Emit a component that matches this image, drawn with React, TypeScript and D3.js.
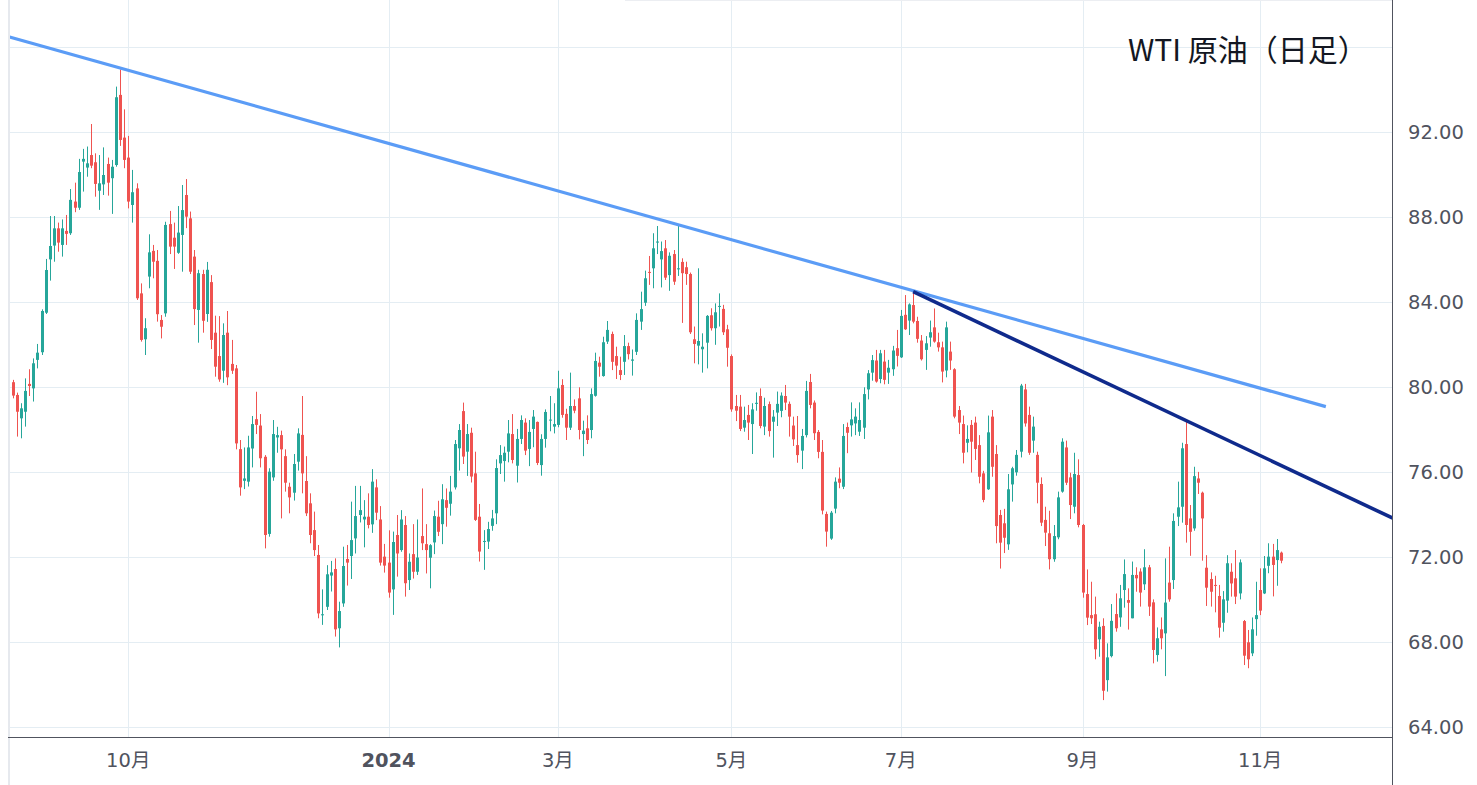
import React from 'react';
import * as d3 from 'd3';

// open, high, low, close
type Bar = [number, number, number, number];

const aug23: Bar[] = [
  [80.24, 80.35, 79.48, 79.61], [79.64, 79.75, 77.68, 78.85], [78.54, 79.25, 77.6, 79.01], [78.85, 80.42, 78.15, 79.83],
  [80.16, 80.85, 79.59, 80.06], [79.95, 81.36, 79.33, 81.13], [81.29, 82.04, 80.89, 81.63], [81.65, 83.67, 81.52, 83.59],
];
const sep23: Bar[] = [
  [83.51, 86.04, 83.45, 85.52], [86.02, 88.06, 85.02, 86.65], [86.67, 88.06, 85.91, 87.48], [87.48, 87.75, 86.38, 86.81],
  [86.7, 87.9, 86.15, 87.48], [87.36, 88.11, 86.7, 87.22], [87.25, 89.33, 87.17, 88.82], [88.74, 89.63, 88.24, 88.45],
  [88.45, 90.75, 88.35, 90.13], [90.62, 91.22, 89.21, 90.75], [90.34, 91.33, 89.91, 90.54], [90.93, 92.39, 90.31, 90.43],
  [90.59, 91.01, 88.97, 89.57], [89.25, 90.93, 88.35, 89.6], [89.55, 91.29, 89.05, 89.99], [90.51, 90.81, 89.02, 89.63],
  [89.84, 90.7, 88.16, 90.38], [90.46, 94.15, 90.38, 93.65], [93.76, 94.96, 91.36, 91.64], [91.75, 93.08, 90.31, 90.7],
];
const oct23: Bar[] = [
  [90.81, 91.83, 88.42, 88.74], [88.58, 90.23, 87.75, 89.18], [89.36, 89.6, 84.11, 84.19], [84.42, 84.89, 82.15, 82.23],
  [82.26, 83.25, 81.52, 82.78], [85.21, 87.2, 84.66, 86.35], [86.42, 86.7, 85.13, 85.91], [85.95, 86.46, 83.09, 83.44],
  [83.17, 83.4, 82.3, 82.85], [83.48, 87.79, 83.32, 87.64], [87.68, 88.3, 86.27, 86.62], [87.04, 87.75, 85.57, 86.62],
  [86.33, 88.53, 86.28, 87.28], [87.17, 89.52, 85.44, 88.34], [89.05, 89.8, 87.49, 88.03], [87.95, 88.27, 85.33, 85.44],
  [86.15, 86.46, 82.93, 83.68], [83.64, 85.53, 82.1, 85.37], [85.33, 85.53, 82.57, 83.13], [83.45, 85.9, 83.08, 85.53],
  [84.95, 85.28, 81.8, 82.23], [82.57, 83.37, 80.5, 80.97],
];
const nov23: Bar[] = [
  [81.47, 83.35, 80.26, 80.37], [80.78, 83.01, 80.21, 82.46], [82.57, 83.59, 80.1, 80.47], [81.1, 82.23, 80.63, 80.78],
  [80.89, 81.05, 77.08, 77.36], [77.09, 77.52, 74.9, 75.29], [75.6, 77.17, 75.21, 75.71], [75.56, 77.72, 75.33, 77.17],
  [77.12, 78.65, 76.23, 78.27], [78.5, 79.79, 77.8, 78.23], [78.2, 78.74, 76.23, 76.66], [76.73, 76.81, 72.42, 73.05],
  [73.1, 76.19, 72.97, 76.03], [75.76, 78.46, 75.6, 77.8], [77.64, 78.14, 76.92, 77.75], [77.75, 77.96, 73.83, 77.08],
  [76.76, 77.08, 75.09, 75.51], [75.32, 75.51, 74.07, 74.82], [75.04, 76.86, 74.67, 76.39], [76.5, 78.07, 76.08, 77.83],
  [77.76, 79.59, 75.01, 75.95],
];
const dec23: Bar[] = [
  [75.59, 76.76, 73.94, 74.07], [74.54, 75.01, 72.66, 73.05], [73.28, 74.15, 72.06, 72.34], [72.11, 72.58, 69.13, 69.36],
  [69.27, 70.49, 68.82, 69.32], [69.67, 71.63, 69.52, 71.2], [71.14, 71.83, 70.39, 71.29], [71.45, 71.95, 68.27, 68.61],
  [68.66, 69.91, 67.76, 69.47], [69.83, 72.5, 69.67, 71.59], [71.92, 72.58, 70.67, 71.75], [72.06, 74.62, 70.98, 72.81],
  [72.89, 75.36, 72.18, 73.94], [73.99, 75.36, 73.64, 74.22], [73.78, 74.69, 72.47, 73.91], [73.91, 75.01, 73.36, 73.52],
  [73.55, 76.15, 73.15, 75.56], [75.29, 75.67, 73.75, 74.1], [73.78, 74.41, 71.61, 71.75], [72.03, 72.63, 71.28, 71.61],
];
const jan24: Bar[] = [
  [71.75, 73.27, 70.1, 70.34], [70.49, 73.21, 69.29, 72.72], [73.05, 73.99, 71.09, 72.18], [72.34, 74.22, 72.26, 73.78],
  [73.52, 73.94, 70.15, 70.78], [70.93, 72.18, 70.46, 71.79], [72.15, 73.56, 71.0, 71.32], [71.32, 73.78, 71.17, 71.99],
  [73.0, 75.24, 72.34, 72.66], [72.62, 73.56, 71.24, 72.34], [71.98, 72.62, 70.54, 72.57], [72.7, 74.2, 72.15, 73.94],
  [73.91, 74.66, 73.0, 73.2], [73.56, 75.44, 72.62, 74.73], [74.69, 75.24, 73.44, 74.33], [74.52, 75.83, 73.96, 75.09],
  [75.29, 77.52, 75.19, 77.33], [77.13, 78.27, 76.08, 77.99], [78.88, 79.28, 76.39, 76.74], [76.97, 78.27, 75.83, 77.8],
  [77.86, 78.1, 75.52, 75.8],
];
const feb24: Bar[] = [
  [75.95, 76.97, 73.71, 73.76], [73.91, 74.51, 71.8, 72.27], [72.74, 73.28, 71.41, 72.77], [72.74, 73.67, 72.39, 73.33],
  [73.48, 74.23, 73.25, 73.83], [74.07, 76.61, 73.56, 76.2], [76.42, 77.28, 75.92, 76.81], [76.53, 77.21, 75.56, 76.92],
  [76.97, 78.46, 76.47, 77.83], [77.8, 78.74, 76.42, 76.58], [76.31, 78.04, 75.52, 77.57], [77.57, 78.68, 77.33, 78.46],
  [78.34, 78.54, 76.81, 77.02], [77.1, 78.46, 76.29, 77.9], [78.04, 78.93, 77.18, 78.62], [78.37, 78.39, 76.34, 76.44],
  [76.34, 77.79, 75.84, 77.57], [77.57, 78.96, 77.16, 78.84], [78.44, 79.59, 77.93, 78.48], [78.15, 79.25, 77.83, 78.27],
];
const mar24: Bar[] = [
  [78.23, 80.78, 78.12, 79.95], [80.11, 80.38, 78.57, 78.7], [78.75, 78.99, 77.52, 78.1], [78.1, 80.69, 77.99, 79.12],
  [79.12, 79.43, 78.78, 78.9], [79.48, 80.0, 77.55, 77.99], [77.8, 78.43, 76.76, 77.96], [78.07, 78.68, 77.33, 77.52],
  [77.99, 79.95, 77.6, 79.68], [79.6, 81.63, 79.56, 81.24], [81.16, 81.44, 80.5, 80.97], [80.53, 82.38, 80.5, 82.12],
  [82.15, 83.12, 82.04, 82.7], [82.51, 82.62, 80.81, 81.2], [81.47, 81.91, 80.39, 81.02], [80.81, 81.44, 80.34, 80.58],
  [81.2, 82.46, 80.58, 81.94], [81.94, 82.1, 81.31, 81.56], [81.25, 81.78, 80.55, 81.31], [81.67, 83.48, 81.52, 83.17],
];
const apr24: Bar[] = [
  [83.09, 84.5, 82.7, 83.68], [83.98, 85.49, 83.83, 85.13], [85.43, 86.18, 84.82, 85.4], [85.6, 87.25, 84.66, 86.54],
  [86.81, 87.59, 86.27, 86.86], [86.02, 86.86, 84.7, 86.41], [86.54, 86.93, 85.05, 85.16], [85.28, 86.35, 84.54, 86.19],
  [86.27, 86.46, 84.82, 84.97], [85.55, 87.67, 85.24, 85.6], [85.9, 86.07, 83.03, 85.37], [85.65, 85.91, 84.82, 85.33],
  [85.33, 85.4, 82.51, 82.59], [82.26, 82.86, 81.13, 82.04], [81.96, 85.6, 81.08, 82.18], [81.79, 82.54, 80.69, 81.91],
  [82.1, 83.4, 80.89, 83.36], [83.39, 83.72, 82.67, 82.78], [82.78, 83.95, 82.0, 83.53], [83.8, 84.42, 82.86, 83.83],
  [83.69, 83.88, 82.46, 82.59], [82.73, 82.94, 80.97, 81.86],
];
const may24: Bar[] = [
  [81.47, 81.55, 78.85, 78.96], [79.12, 79.64, 78.41, 78.9], [79.09, 79.64, 77.94, 78.04], [78.1, 79.09, 77.91, 78.46],
  [78.7, 79.17, 77.52, 78.34], [78.27, 79.25, 76.86, 78.96], [79.22, 79.76, 78.9, 79.27], [79.59, 79.95, 78.07, 78.18],
  [78.15, 79.51, 77.75, 79.12], [79.21, 79.33, 77.68, 77.94], [78.38, 78.93, 76.69, 78.62], [78.81, 79.8, 78.18, 79.22],
  [78.89, 79.76, 78.59, 79.61], [79.59, 80.11, 78.93, 79.28], [79.22, 79.33, 77.68, 78.62], [78.2, 78.62, 77.24, 77.55],
  [77.28, 78.65, 76.45, 76.81], [77.02, 78.04, 76.15, 77.71], [77.75, 80.3, 77.64, 79.83], [80.25, 80.63, 79.01, 79.17],
  [79.28, 79.38, 77.52, 77.84], [77.9, 77.99, 76.66, 76.96],
];
const jun24: Bar[] = [
  [76.96, 77.52, 74.02, 74.2], [74.04, 74.15, 72.5, 73.21], [72.88, 74.18, 72.82, 74.1], [74.29, 75.76, 74.07, 75.56],
  [75.7, 76.23, 75.25, 75.51], [75.32, 78.27, 75.21, 77.71], [78.13, 78.34, 76.9, 77.86], [78.21, 79.29, 77.68, 78.49],
  [78.3, 79.01, 77.75, 78.62], [77.91, 79.29, 77.71, 78.46], [78.1, 80.0, 77.57, 79.68], [79.9, 80.81, 79.43, 80.66],
  [80.69, 81.52, 80.31, 81.28], [81.26, 81.76, 80.22, 80.27], [80.39, 81.76, 80.19, 81.6], [81.21, 81.76, 80.14, 80.35],
  [80.69, 81.29, 80.16, 80.92], [80.85, 81.95, 80.54, 81.73], [81.84, 82.7, 80.98, 81.48],
];
const jul24: Bar[] = [
  [81.41, 83.64, 81.38, 83.36], [83.41, 84.34, 82.7, 82.73], [83.14, 83.95, 82.46, 83.9], [83.87, 84.5, 83.01, 83.09],
  [83.12, 83.32, 82.1, 82.28], [82.2, 82.46, 81.26, 81.32], [81.76, 82.41, 80.82, 82.07], [82.34, 83.14, 81.91, 82.59],
  [82.82, 83.71, 82.1, 82.15], [82.12, 82.57, 81.68, 81.88], [81.88, 82.15, 80.23, 80.74], [80.79, 83.09, 80.47, 82.82],
  [81.68, 82.15, 80.82, 81.26], [80.85, 80.9, 78.54, 78.62], [78.93, 79.12, 77.8, 78.34], [78.27, 78.67, 76.42, 76.92],
  [77.39, 78.21, 76.94, 77.57], [78.23, 78.46, 75.99, 77.44], [78.34, 78.62, 76.58, 77.1], [77.28, 77.75, 75.48, 75.79],
  [75.95, 76.07, 74.59, 74.7], [75.2, 78.67, 75.17, 77.88],
];
const aug24: Bar[] = [
  [78.62, 78.93, 75.79, 76.26], [76.86, 77.28, 72.66, 73.47], [73.99, 74.23, 71.47, 72.69], [73.6, 74.28, 72.2, 72.92],
  [72.61, 75.92, 72.35, 75.2], [75.43, 76.26, 74.62, 76.19], [76.0, 77.05, 75.84, 76.82], [76.97, 80.16, 76.7, 80.08],
  [79.9, 80.16, 78.15, 78.3], [78.7, 79.09, 76.82, 76.92], [77.49, 78.62, 76.92, 78.15], [76.82, 76.97, 74.54, 75.51],
  [75.45, 75.76, 73.47, 73.63], [73.76, 74.38, 72.53, 73.16], [73.13, 74.19, 71.43, 71.91], [71.91, 73.52, 71.79, 73.0],
  [72.94, 75.09, 72.85, 74.82], [75.09, 77.6, 75.04, 77.44], [77.17, 77.49, 75.4, 75.51], [75.76, 75.98, 73.8, 74.46],
  [74.38, 76.92, 74.07, 75.92], [75.87, 76.61, 73.41, 73.52],
];
const sep24: Bar[] = [
  [73.52, 73.57, 70.1, 70.34], [70.27, 71.43, 68.81, 69.16], [69.28, 70.85, 68.86, 69.13], [69.32, 70.15, 67.2, 67.67],
  [68.14, 68.97, 67.32, 68.73], [68.77, 69.13, 65.28, 65.72], [66.22, 67.95, 65.68, 67.29], [67.35, 69.8, 67.29, 69.01],
  [69.33, 70.3, 68.5, 68.66], [69.17, 70.7, 68.73, 70.07], [70.46, 71.9, 69.63, 71.21], [69.99, 70.54, 68.6, 69.86],
  [69.13, 71.8, 69.13, 71.17], [71.17, 71.53, 70.38, 71.01], [71.33, 71.48, 69.68, 70.34], [70.73, 72.38, 70.46, 71.53],
  [71.53, 71.64, 69.24, 69.68], [69.88, 70.02, 67.01, 67.64], [67.4, 68.7, 67.09, 68.19], [68.61, 69.17, 67.67, 68.19],
];
const oct24: Bar[] = [
  [68.42, 71.95, 66.41, 69.87], [70.81, 72.5, 69.91, 70.02], [70.93, 74.07, 70.51, 73.71], [73.91, 75.56, 73.47, 74.35],
  [74.38, 77.39, 73.63, 77.13], [77.33, 78.46, 72.69, 73.52], [73.83, 74.46, 72.07, 73.2], [73.36, 76.26, 73.25, 75.82],
  [75.71, 76.02, 74.98, 75.51], [75.04, 75.09, 71.84, 73.83], [71.51, 72.1, 69.71, 70.57], [70.98, 71.29, 69.68, 70.38],
  [70.7, 71.13, 69.41, 70.66], [70.18, 70.7, 68.22, 68.69], [68.92, 70.41, 68.5, 70.02], [69.96, 72.1, 69.39, 71.72],
  [71.32, 71.72, 70.15, 70.77], [71.01, 72.34, 69.8, 70.15], [70.3, 71.9, 70.02, 71.76], [69.0, 69.05, 66.93, 67.37],
  [68.0, 68.58, 66.78, 67.2], [67.48, 69.17, 67.35, 68.61], [69.09, 70.85, 68.31, 69.28],
];
const nov24: Bar[] = [
  [70.46, 71.48, 69.28, 69.49], [70.3, 72.06, 70.27, 71.48], [71.6, 72.66, 71.25, 72.03], [72.03, 72.63, 70.16, 71.64],
  [71.87, 72.86, 70.66, 72.34], [72.22, 72.27, 71.72, 71.84],
];

// month boundaries (bar index) and their labels
const tickIndex = [28, 91, 132, 174, 215, 259, 302];
const tickLabels = ['10月', '2024', '3月', '5月', '7月', '9月', '11月'];
const priceLabels = [64, 68, 72, 76, 80, 84, 88, 92];
const gridPrices = [64, 68, 72, 76, 80, 84, 88, 92, 96];

// trend lines as [bar index, price]
const longTrend: [number, number][] = [[-1, 96.5], [317.9, 79.09]];
const shortTrend: [number, number][] = [[218, 84.5], [340, 73.3]];

const title = 'WTI 原油（日足）';

const bars: Bar[] = [
  ...aug23, ...sep23, ...oct23, ...nov23, ...dec23, ...jan24, ...feb24, ...mar24,
  ...apr24, ...may24, ...jun24, ...jul24, ...aug24, ...sep24, ...oct24, ...nov24,
];

const App = () => {
  const width = 1477;
  const height = 785;
  const plotLeft = 10;
  const plotRight = 1392;
  const plotBottom = 737;

  const x = d3.scaleLinear()
    .domain([0, bars.length - 1])
    .range([12.6, 12.6 + (bars.length - 1) * 4.131]);
  const y = d3.scaleLinear()
    .domain([64, 96])
    .range([727.3, 47.3]);

  const line = d3.line<[number, number]>()
    .x(d => x(d[0]))
    .y(d => y(d[1]));

  const up = '#26a69a';
  const down = '#ef5350';
  const grid = '#e4edf3';
  const axisColor = '#50535e';
  const labelFont = '"DejaVu Sans", "Noto Sans CJK JP", sans-serif';

  return (
    <svg width={width} height={height}
      style={{ position: 'absolute', left: 0, top: 0, display: 'block', background: '#fff' }}>
      <defs>
        <clipPath id="plot-clip">
          <rect x={plotLeft} y={0} width={plotRight - plotLeft} height={plotBottom} />
        </clipPath>
      </defs>

      {/* Grid */}
      {gridPrices.map(p => (
        <line key={'h' + p} x1={plotLeft} x2={plotRight} y1={Math.round(y(p)) + 0.5} y2={Math.round(y(p)) + 0.5}
          stroke={grid} strokeWidth={1} />
      ))}
      {tickIndex.map(i => (
        <line key={'v' + i} x1={Math.round(x(i)) + 0.5} x2={Math.round(x(i)) + 0.5} y1={0} y2={plotBottom}
          stroke={grid} strokeWidth={1} />
      ))}

      {/* Pane borders */}
      <line x1={9} x2={9} y1={0} y2={height} stroke="#e6e9ee" strokeWidth={2} />
      <line x1={625} x2={plotRight} y1={0.5} y2={0.5} stroke="#eceef2" strokeWidth={1} />

      {/* Candles */}
      {bars.map((b, i) => {
        const [o, h, l, c] = b;
        const cx = Math.round(x(i));
        const color = c >= o ? up : down;
        const top = y(Math.max(o, c));
        const bh = Math.max(1, Math.abs(y(o) - y(c)));
        return (
          <g key={i}>
            <line x1={cx + 0.5} x2={cx + 0.5} y1={y(h)} y2={y(l)} stroke={color} strokeWidth={1} />
            <rect x={cx - 1} y={top} width={3} height={bh} fill={color} />
          </g>
        );
      })}

      {/* Trend lines */}
      <g clipPath="url(#plot-clip)">
        <path d={line(longTrend) || ''} fill="none" stroke="#5b9cf6" strokeWidth={3.2} />
        <path d={line(shortTrend) || ''} fill="none" stroke="#0f2a8c" strokeWidth={3.6} />
      </g>

      {/* Axes */}
      <line x1={8} x2={plotRight} y1={plotBottom + 0.5} y2={plotBottom + 0.5} stroke={axisColor} strokeWidth={1} />
      <line x1={plotRight + 0.5} x2={plotRight + 0.5} y1={0} y2={height} stroke={axisColor} strokeWidth={1} />

      {priceLabels.map(p => (
        <text key={'yl' + p} x={1408} y={y(p)} dy="0.36em" fill={axisColor}
          style={{ fontFamily: labelFont, fontSize: '19.5px' }}>
          {p.toFixed(2)}
        </text>
      ))}

      {tickIndex.map((t, k) => (
        <text key={'xl' + t} x={x(t)} y={767} textAnchor="middle" fill={axisColor}
          style={{ fontFamily: labelFont, fontSize: '19.5px', fontWeight: tickLabels[k] === '2024' ? 'bold' : 'normal' }}>
          {tickLabels[k]}
        </text>
      ))}

      {/* Title */}
      <text x={1128} y={61} fill="#131722"
        style={{ fontFamily: '"Noto Sans CJK JP", "Noto Sans", sans-serif', fontSize: '30px' }}>
        {title}
      </text>
    </svg>
  );
};

export default App;
